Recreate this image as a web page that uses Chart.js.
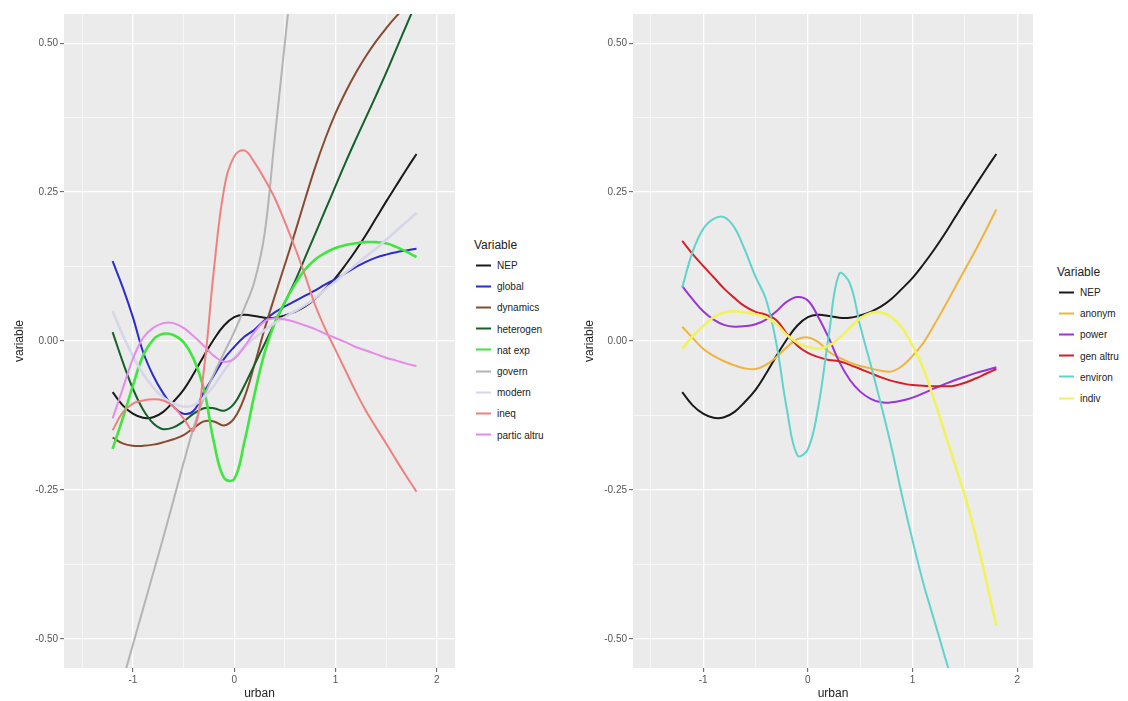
<!DOCTYPE html>
<html>
<head>
<meta charset="utf-8">
<title>urban vs variable</title>
<script src="https://cdn.jsdelivr.net/npm/chart.js"></script>
<style>
  body { margin: 0; background: #fff; font-family: "Liberation Sans", Arial, sans-serif; }
  #wrap { position: relative; width: 1128px; height: 701px; overflow: hidden; }
  .panel { position: absolute; top: 0; height: 701px; }
  .legend { position: absolute; color: #222; }
  .legend .ttl { position: absolute; font-size: 12px; white-space: nowrap; transform: translateY(-50%); }
  .legend .item { position: absolute; font-size: 10px; white-space: nowrap; transform: translateY(-50%); }
  .legend .key { position: absolute; height: 2px; width: 15px; top: 50%; margin-top: -1px; }
</style>
</head>
<body>
<div id="wrap">
    <div class="panel" style="left:0; width:460px;"><canvas id="leftChart"></canvas></div>
    <div class="panel" style="left:570px; width:470px;"><canvas id="rightChart"></canvas></div>
    <div class="legend" id="leftLegend" style="left:474px; top:245px;"></div>
    <div class="legend" id="rightLegend" style="left:1057px; top:272px;"></div>
</div>

<script>
    // x positions of the smoothed curves
    const urban = [-1.2, -1.1, -1.0, -0.9, -0.8, -0.7, -0.6, -0.5, -0.4, -0.3, -0.2, -0.1, 0, 0.1, 0.2,
                   0.3, 0.4, 0.5, 0.6, 0.7, 0.8, 0.9, 1.0, 1.1, 1.2, 1.3, 1.4, 1.5, 1.6, 1.7, 1.8];

    const nep        = [-0.086, -0.108, -0.122, -0.129, -0.128, -0.119, -0.102, -0.082, -0.055, -0.025, 0.003, 0.026, 0.040, 0.044, 0.042, 0.039, 0.039, 0.043, 0.049, 0.058, 0.071, 0.088, 0.106, 0.128, 0.152, 0.178, 0.206, 0.234, 0.261, 0.288, 0.314];
    const globalVar  = [0.134, 0.090, 0.040, -0.018, -0.058, -0.088, -0.110, -0.122, -0.117, -0.086, -0.058, -0.030, -0.010, 0.007, 0.019, 0.035, 0.048, 0.058, 0.067, 0.076, 0.085, 0.095, 0.104, 0.114, 0.124, 0.133, 0.140, 0.145, 0.149, 0.152, 0.155];
    const dynamics   = [-0.162, -0.172, -0.176, -0.176, -0.174, -0.170, -0.165, -0.158, -0.146, -0.135, -0.135, -0.142, -0.130, -0.095, -0.040, 0.020, 0.075, 0.128, 0.182, 0.238, 0.292, 0.340, 0.382, 0.418, 0.450, 0.478, 0.503, 0.525, 0.545, 0.562, 0.575];
    const heterogen  = [0.015, -0.035, -0.080, -0.115, -0.138, -0.148, -0.145, -0.135, -0.122, -0.113, -0.113, -0.117, -0.105, -0.075, -0.040, -0.005, 0.030, 0.065, 0.100, 0.140, 0.180, 0.220, 0.260, 0.300, 0.338, 0.375, 0.412, 0.450, 0.490, 0.530, 0.570];
    const natExp     = [-0.181, -0.130, -0.075, -0.025, 0.002, 0.012, 0.010, -0.002, -0.030, -0.080, -0.170, -0.230, -0.232, -0.170, -0.090, -0.020, 0.030, 0.065, 0.095, 0.120, 0.137, 0.148, 0.156, 0.161, 0.164, 0.166, 0.166, 0.164, 0.158, 0.150, 0.141];
    const govern     = [-0.630, -0.570, -0.510, -0.450, -0.390, -0.330, -0.268, -0.205, -0.145, -0.095, -0.055, -0.020, 0.015, 0.055, 0.100, 0.180, 0.340, 0.500, 0.660, null, null, null, null, null, null, null, null, null, null, null, null];
    const modern     = [0.050, 0.010, -0.025, -0.055, -0.078, -0.095, -0.105, -0.110, -0.108, -0.095, -0.075, -0.050, -0.028, -0.010, 0.005, 0.018, 0.030, 0.040, 0.050, 0.060, 0.072, 0.087, 0.100, 0.115, 0.128, 0.142, 0.155, 0.170, 0.185, 0.200, 0.215];
    const ineq       = [-0.150, -0.120, -0.105, -0.100, -0.098, -0.100, -0.110, -0.130, -0.150, -0.050, 0.120, 0.255, 0.310, 0.320, 0.300, 0.272, 0.240, 0.200, 0.157, 0.110, 0.060, 0.020, -0.015, -0.050, -0.085, -0.117, -0.145, -0.172, -0.200, -0.227, -0.253];
    const particAltru = [-0.130, -0.080, -0.030, 0.005, 0.022, 0.030, 0.030, 0.022, 0.008, -0.008, -0.025, -0.035, -0.030, -0.010, 0.015, 0.033, 0.038, 0.036, 0.032, 0.026, 0.020, 0.012, 0.005, -0.002, -0.010, -0.016, -0.022, -0.028, -0.033, -0.038, -0.042];

    const anonym     = [0.024, 0.005, -0.013, -0.025, -0.034, -0.041, -0.046, -0.047, -0.040, -0.027, -0.010, 0.003, 0.006, -0.002, -0.018, -0.028, -0.036, -0.042, -0.046, -0.050, -0.051, -0.042, -0.025, -0.004, 0.025, 0.056, 0.088, 0.120, 0.152, 0.186, 0.221];
    const power      = [0.092, 0.070, 0.050, 0.036, 0.027, 0.024, 0.025, 0.028, 0.036, 0.050, 0.066, 0.074, 0.068, 0.040, 0.005, -0.035, -0.065, -0.085, -0.097, -0.103, -0.103, -0.100, -0.095, -0.088, -0.080, -0.073, -0.066, -0.060, -0.054, -0.049, -0.044];
    const genAltru   = [0.168, 0.146, 0.126, 0.107, 0.088, 0.072, 0.058, 0.049, 0.044, 0.035, 0.012, -0.008, -0.020, -0.027, -0.032, -0.034, -0.040, -0.047, -0.054, -0.061, -0.067, -0.071, -0.074, -0.075, -0.076, -0.076, -0.075, -0.070, -0.063, -0.055, -0.047];
    const environ    = [0.090, 0.150, 0.188, 0.205, 0.208, 0.190, 0.152, 0.108, 0.070, -0.005, -0.115, -0.192, -0.182, -0.110, 0.010, 0.113, 0.097, 0.025, -0.040, -0.108, -0.180, -0.260, -0.335, -0.405, -0.465, -0.525, -0.585, -0.645, null, null, null];
    const indiv      = [-0.013, 0.008, 0.025, 0.040, 0.048, 0.050, 0.048, 0.045, 0.040, 0.028, 0.010, -0.003, -0.010, -0.013, -0.008, 0.005, 0.022, 0.038, 0.047, 0.048, 0.040, 0.022, -0.008, -0.045, -0.095, -0.150, -0.205, -0.260, -0.325, -0.400, -0.478];

    const leftNames  = ['NEP', 'global', 'dynamics', 'heterogen', 'nat exp', 'govern', 'modern', 'ineq', 'partic altru'];
    const leftSeries = [nep, globalVar, dynamics, heterogen, natExp, govern, modern, ineq, particAltru];
    const leftColors = ['#1a1a1a', '#2b2bd0', '#8a4a30', '#14602a', '#3ee63e', '#b4b4b4', '#d6d6ea', '#f08080', '#e48ce8'];

    const rightNames  = ['NEP', 'anonym', 'power', 'gen altru', 'environ', 'indiv'];
    const rightSeries = [nep, anonym, power, genAltru, environ, indiv];
    const rightColors = ['#1a1a1a', '#f0b43c', '#9b34d6', '#d42028', '#5fd3cc', '#f2f25c'];

    const xTicks = [-1.5, -1, -0.5, 0, 0.5, 1, 1.5, 2];
    const yTicks = [-0.5, -0.375, -0.25, -0.125, 0, 0.125, 0.25, 0.375, 0.5];

    const panelBg = {
        id: 'panelBg',
        beforeDraw(chart) {
            const a = chart.chartArea;
            const c = chart.ctx;
            c.save();
            c.fillStyle = '#ebebeb';
            c.fillRect(a.left, a.top, a.right - a.left, a.bottom - a.top);
            c.restore();
        }
    };

    function isMajorX(v) { return Math.abs(v - Math.round(v)) < 1e-9; }
    function isMajorY(v) { return Math.abs(v * 4 - Math.round(v * 4)) < 1e-9; }

    function makePanel(id, names, series, colors, xMin, xMax, axisWidth, rightPad) {
        const datasets = series.map((vals, i) => ({
            label: names[i],
            data: urban.map((u, k) => ({x: u, y: vals[k]})).filter(p => p.y !== null),
            borderColor: colors[i],
            borderWidth: (names[i] === 'nat exp' || names[i] === 'indiv' || names[i] === 'modern') ? 2.6 : 2,
            pointRadius: 0,
            fill: false,
            tension: 0.4,
            clip: 0,
            order: -i
        }));

        return new Chart(document.getElementById(id), {
            type: 'line',
            data: {datasets: datasets},
            plugins: [panelBg],
            options: {
                responsive: true,
                maintainAspectRatio: false,
                animation: false,
                layout: {padding: {left: 0, top: 14, right: rightPad, bottom: 0}},
                plugins: {legend: {display: false}, tooltip: {enabled: false}},
                scales: {
                    x: {
                        type: 'linear',
                        min: xMin,
                        max: xMax,
                        afterBuildTicks: s => { s.ticks = xTicks.map(v => ({value: v})); },
                        afterFit: s => { s.height = 33; },
                        border: {display: false},
                        grid: {
                            color: '#ffffff',
                            lineWidth: c => isMajorX(c.tick.value) ? 1.3 : 0.6,
                            tickLength: 4,
                            tickWidth: 1,
                            tickColor: c => isMajorX(c.tick.value) ? '#5a5a5a' : 'rgba(0,0,0,0)'
                        },
                        ticks: {
                            autoSkip: false,
                            maxRotation: 0,
                            padding: 2,
                            color: '#555',
                            font: {size: 10, family: 'Liberation Sans'},
                            callback: v => isMajorX(v) ? String(Math.round(v)) : ''
                        },
                        title: {
                            display: true, text: 'urban', color: '#222',
                            font: {size: 12, family: 'Liberation Sans'},
                            padding: {top: 0, bottom: 0}
                        }
                    },
                    y: {
                        type: 'linear',
                        min: -0.549,
                        max: 0.549,
                        afterBuildTicks: s => { s.ticks = yTicks.map(v => ({value: v})); },
                        afterFit: s => { s.width = axisWidth; },
                        border: {display: false},
                        grid: {
                            color: '#ffffff',
                            lineWidth: c => isMajorY(c.tick.value) ? 1.3 : 0.6,
                            tickLength: 4,
                            tickWidth: 1,
                            tickColor: c => isMajorY(c.tick.value) ? '#5a5a5a' : 'rgba(0,0,0,0)'
                        },
                        ticks: {
                            autoSkip: false,
                            padding: 2,
                            color: '#555',
                            font: {size: 10, family: 'Liberation Sans'},
                            callback: v => isMajorY(v) ? v.toFixed(2) : ''
                        },
                        title: {
                            display: true, text: 'variable', color: '#222',
                            font: {size: 12, family: 'Liberation Sans'},
                            padding: {top: 12, bottom: 0}
                        }
                    }
                }
            }
        });
    }

    function makeLegend(id, names, colors) {
        const box = document.getElementById(id);
        const ttl = document.createElement('div');
        ttl.className = 'ttl';
        ttl.style.left = '0px';
        ttl.style.top = '0px';
        ttl.textContent = 'Variable';
        box.appendChild(ttl);
        names.forEach((n, i) => {
            const it = document.createElement('div');
            it.className = 'item';
            it.style.left = '2px';
            it.style.top = (20 + i * 21.2) + 'px';
            it.innerHTML = '<span class="key" style="left:0;background:' + colors[i] + '"></span>' +
                           '<span style="padding-left:21px">' + n + '</span>';
            box.appendChild(it);
        });
    }

    makePanel('leftChart', leftNames, leftSeries, leftColors, -1.68, 2.18, 64, 5);
    makePanel('rightChart', rightNames, rightSeries, rightColors, -1.67, 2.15, 63, 7);
    makeLegend('leftLegend', leftNames, leftColors);
    makeLegend('rightLegend', rightNames, rightColors);
</script>
</body>
</html>
